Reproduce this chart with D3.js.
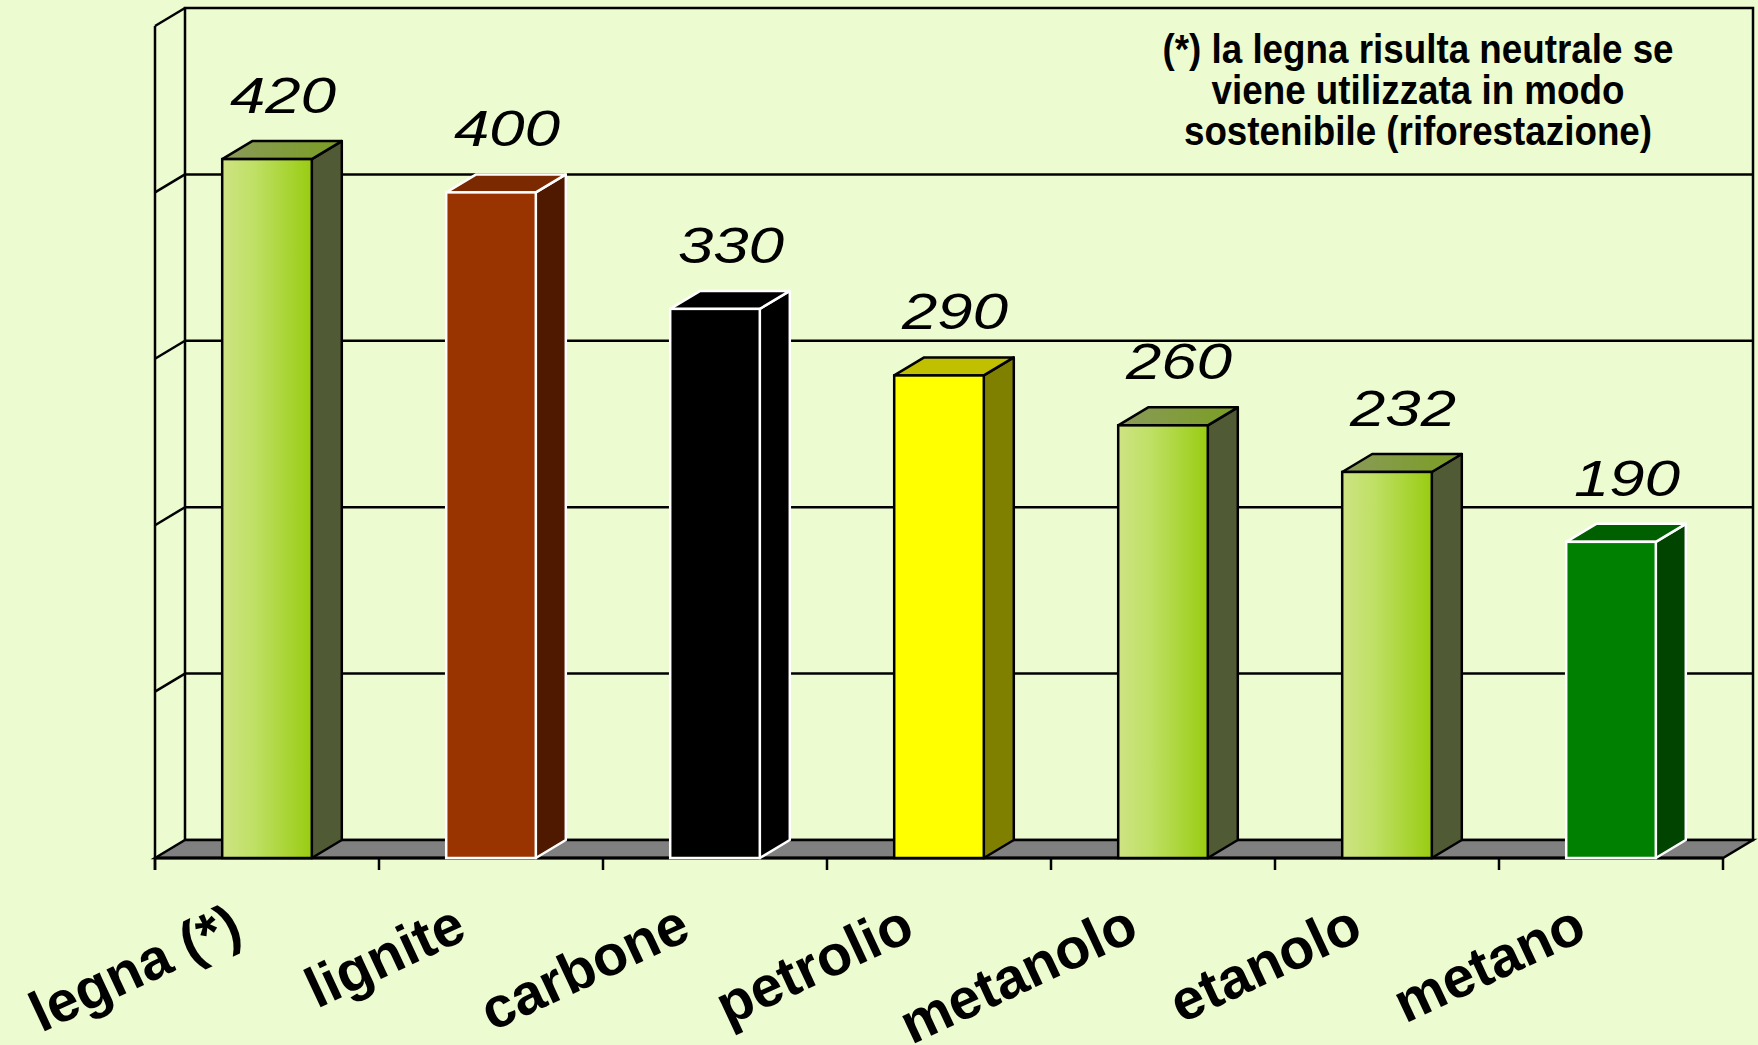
<!DOCTYPE html>
<html>
<head>
<meta charset="utf-8">
<script src="https://cdn.jsdelivr.net/npm/d3@7"></script>
<style>
  html, body { margin: 0; padding: 0; background: #edfbd0; }
  svg { display: block; }
</style>
</head>
<body>
<svg id="chart" width="1758" height="1045"></svg>
<script>
// Emissioni per combustibile
const categories = ["legna (*)", "lignite", "carbone", "petrolio", "metanolo", "etanolo", "metano"];
const values = [420, 400, 330, 290, 260, 232, 190];
const gridTicks = [0, 100, 200, 300, 400, 500];
const noteLines = [
  "(*) la legna risulta neutrale se",
  "viene utilizzata in modo",
  "sostenibile (riforestazione)"
];

// Bar styling per category: front, side, top, outline
const barStyle = {
  "legna (*)": { front: "url(#greenGrad)", side: "#505b36", top: "url(#greenTop)", stroke: "#000" },
  "lignite":   { front: "#993300", side: "#4f1900", top: "#7a2900", stroke: "#fff" },
  "carbone":   { front: "#000000", side: "#000000", top: "#000000", stroke: "#fff" },
  "petrolio":  { front: "#ffff00", side: "#808000", top: "#c0c000", stroke: "#000" },
  "metanolo":  { front: "url(#greenGrad)", side: "#505b36", top: "url(#greenTop)", stroke: "#000" },
  "etanolo":   { front: "url(#greenGrad)", side: "#505b36", top: "url(#greenTop)", stroke: "#000" },
  "metano":    { front: "#008000", side: "#004400", top: "#006000", stroke: "#fff" }
};

const svg = d3.select("#chart");
const W = 1758, H = 1045;
svg.append("rect").attr("width", W).attr("height", H).attr("fill", "#edfbd0");

const defs = svg.append("defs");
const g1 = defs.append("linearGradient").attr("id", "greenGrad").attr("x1", "0").attr("x2", "1").attr("y1", "0").attr("y2", "0");
g1.append("stop").attr("offset", "0%").attr("stop-color", "#cfe383");
g1.append("stop").attr("offset", "35%").attr("stop-color", "#bfe066");
g1.append("stop").attr("offset", "100%").attr("stop-color", "#99cc11");
const g2 = defs.append("linearGradient").attr("id", "greenTop").attr("x1", "0").attr("x2", "1").attr("y1", "0").attr("y2", "0");
g2.append("stop").attr("offset", "0%").attr("stop-color", "#8a9a5a");
g2.append("stop").attr("offset", "100%").attr("stop-color", "#7a9e22");

// 3D frame geometry: front plane and depth offset
const frontLeft = 155, frontRight = 1723;
const floorFront = 858;
const dx = 30, dy = -18;

const x = d3.scaleBand().domain(categories).range([frontLeft, frontRight])
  .paddingInner(0.6).paddingOuter(0.3);
const y = d3.scaleLinear().domain([0, 500]).range([floorFront, 26]);

const frame = svg.append("g");

// back wall
frame.append("rect")
  .attr("x", frontLeft + dx).attr("y", y(500) + dy)
  .attr("width", frontRight - frontLeft).attr("height", y(0) - y(500))
  .attr("fill", "none").attr("stroke", "#000").attr("stroke-width", 2.5);

// gridlines on back wall and their diagonals on the side wall
gridTicks.forEach(t => {
  if (t > 0 && t < 500) {
    frame.append("line")
      .attr("x1", frontLeft + dx).attr("x2", frontRight + dx)
      .attr("y1", y(t) + dy).attr("y2", y(t) + dy)
      .attr("stroke", "#000").attr("stroke-width", 2.5);
  }
  if (t > 0) {
    frame.append("line")
      .attr("x1", frontLeft).attr("x2", frontLeft + dx)
      .attr("y1", y(t)).attr("y2", y(t) + dy)
      .attr("stroke", "#000").attr("stroke-width", 2.5);
  }
});

// floor
frame.append("path")
  .attr("d", `M${frontLeft},${floorFront} L${frontLeft + dx},${floorFront + dy} L${frontRight + dx},${floorFront + dy} L${frontRight},${floorFront} Z`)
  .attr("fill", "#808080").attr("stroke", "#000").attr("stroke-width", 2.5).attr("stroke-linejoin", "miter");

// left (value) axis
frame.append("line")
  .attr("x1", frontLeft).attr("x2", frontLeft)
  .attr("y1", y(500)).attr("y2", floorFront + 12)
  .attr("stroke", "#000").attr("stroke-width", 2.5);

// category ticks under the floor
d3.range(categories.length + 1).forEach(i => {
  const tx = frontLeft + i * x.step();
  frame.append("line")
    .attr("x1", tx).attr("x2", tx)
    .attr("y1", floorFront).attr("y2", floorFront + 12)
    .attr("stroke", "#000").attr("stroke-width", 2.5);
});
frame.append("line")
  .attr("x1", frontLeft).attr("x2", frontRight)
  .attr("y1", floorFront).attr("y2", floorFront)
  .attr("stroke", "#000").attr("stroke-width", 3);

// bars
const data = categories.map((c, i) => ({ cat: c, val: values[i] }));
const bars = svg.append("g").selectAll("g").data(data).join("g");

bars.each(function(d) {
  const g = d3.select(this);
  const st = barStyle[d.cat];
  const x0 = x(d.cat), x1 = x0 + x.bandwidth();
  const yt = y(d.val), yb = y(0);
  // side face
  g.append("path")
    .attr("d", `M${x1},${yt} L${x1 + dx},${yt + dy} L${x1 + dx},${yb + dy} L${x1},${yb} Z`)
    .attr("fill", st.side).attr("stroke", st.stroke).attr("stroke-width", 2.5).attr("stroke-linejoin", "round");
  // top face
  g.append("path")
    .attr("d", `M${x0},${yt} L${x0 + dx},${yt + dy} L${x1 + dx},${yt + dy} L${x1},${yt} Z`)
    .attr("fill", st.top).attr("stroke", st.stroke).attr("stroke-width", 2.5).attr("stroke-linejoin", "round");
  // front face
  g.append("rect")
    .attr("x", x0).attr("y", yt).attr("width", x1 - x0).attr("height", yb - yt)
    .attr("fill", st.front).attr("stroke", st.stroke).attr("stroke-width", 2.5);
});

// value labels above bars
svg.append("g").selectAll("text").data(data).join("text")
  .attr("x", d => x(d.cat) + x.bandwidth() / 2 + 16)
  .attr("y", d => y(d.val) + dy - 28)
  .attr("text-anchor", "middle")
  .attr("font-family", "'Liberation Sans', Arial, sans-serif")
  .attr("font-style", "italic")
  .attr("font-size", 50)
  .attr("textLength", 106)
  .attr("lengthAdjust", "spacingAndGlyphs")
  .attr("fill", "#000")
  .text(d => d.val);

// rotated category labels
svg.append("g").selectAll("text").data(categories).join("text")
  .attr("transform", c => `translate(${x(c) + x.bandwidth() / 2 - 22},${floorFront + 80}) rotate(-25)`)
  .attr("text-anchor", "end")
  .attr("font-family", "'Liberation Sans', Arial, sans-serif")
  .attr("font-weight", "bold")
  .attr("font-size", 57)
  .attr("fill", "#000")
  .text(c => c);

// footnote on the back wall
const note = svg.append("g").attr("transform", "translate(1418,0) scale(0.92,1)");
note.selectAll("text").data(noteLines).join("text")
  .attr("x", 0)
  .attr("y", (d, i) => 63 + i * 41)
  .attr("text-anchor", "middle")
  .attr("font-family", "'Liberation Sans', Arial, sans-serif")
  .attr("font-weight", "bold")
  .attr("font-size", 40)
  .attr("fill", "#000")
  .text(d => d);
</script>
</body>
</html>
